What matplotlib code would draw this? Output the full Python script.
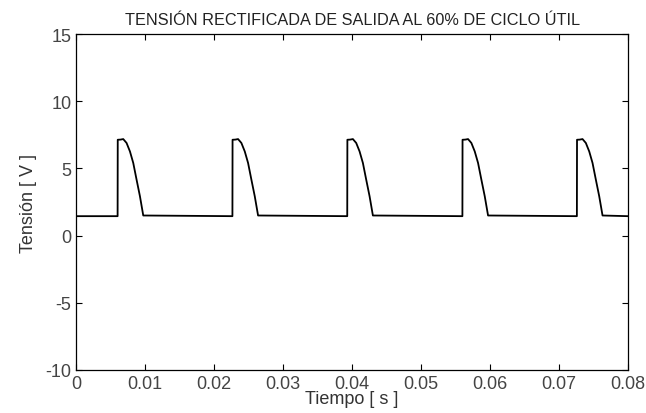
import numpy as np
import matplotlib.pyplot as plt

# pulse start times (s)
pulse_starts = [0.0060, 0.02265, 0.0393, 0.0560, 0.0726]
# one pulse: time after the rising edge (s) and voltage (V)
pulse_dt = [0.0, 0.00002, 0.00040, 0.00082, 0.00130, 0.00179, 0.00227, 0.00275, 0.00324, 0.00372]
pulse_v = [1.45, 7.14, 7.15, 7.19, 6.90, 6.27, 5.41, 4.17, 2.93, 1.50]
baseline = 1.45
t_end = 0.08

# build the trace from the pulses
t = [0.0]
v = [baseline]
for ts in pulse_starts:
    for dt, val in zip(pulse_dt, pulse_v):
        t.append(ts + dt)
        v.append(val)
t.append(t_end)
v.append(baseline)

plt.rcParams['font.family'] = ['Liberation Sans', 'DejaVu Sans']
plt.rcParams['axes.unicode_minus'] = False
fig = plt.figure(figsize=(6.46, 4.14), dpi=100)
ax = fig.add_axes([0.118, 0.104, 0.854, 0.811])
ax.plot(t, v, color='black', linewidth=1.3)

ax.set_xlim(0, 0.08)
ax.set_ylim(-10, 15)
ax.set_xticks(np.arange(0, 0.081, 0.01))
ax.set_xticklabels(['0', '0.01', '0.02', '0.03', '0.04', '0.05', '0.06', '0.07', '0.08'])
ax.set_yticks([-10, -5, 0, 5, 10, 15])
ax.tick_params(direction='in', top=True, right=True, length=4, labelsize=13, colors='black',
               labelcolor='#444444')
for s in ax.spines.values():
    s.set_linewidth(0.9)

ax.set_title('TENSIÓN RECTIFICADA DE SALIDA AL 60% DE CICLO ÚTIL', fontsize=11.7, pad=7,
             color='#222222')
ax.set_xlabel('Tiempo [ s ]', fontsize=13, labelpad=-1, color='#333333')
ax.set_ylabel('Tensión [ V ]', fontsize=13, labelpad=6, color='#333333')

fig.savefig('out.png', dpi=100)
